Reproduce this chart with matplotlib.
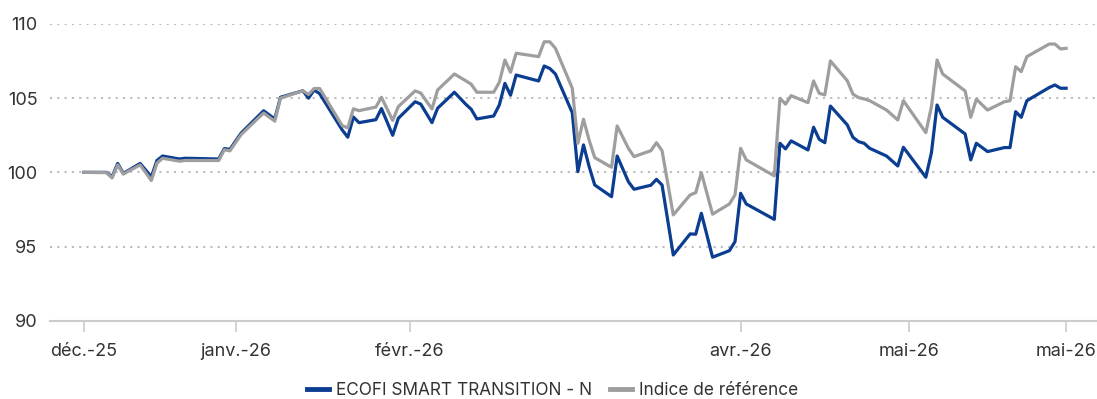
import pandas as pd
import matplotlib
matplotlib.use("Agg")
import matplotlib.pyplot as plt

plt.rcParams["font.family"] = ["Inter", "DejaVu Sans"]

# Base 100 au 05/12/2025, jours calendaires depuis le départ
START = pd.Timestamp("2025-12-05")
day_offsets = [
    0, 4, 5, 6, 7, 8, 10, 12, 13, 14, 17, 18, 24, 25, 26, 28,
    32, 34, 35, 39, 40, 41, 42, 46, 47, 48, 49, 52, 53, 55, 56,
    59, 60, 62, 63, 66, 68, 69, 70, 73, 74, 75, 76, 77, 81, 82,
    83, 84, 87, 88, 89, 90, 91, 94, 95, 97, 98, 101, 102, 103,
    105, 108, 109, 110, 112, 115, 116, 117, 118, 123, 124, 125,
    126, 129, 130, 131, 132, 133, 136, 137, 138, 139, 140, 143,
    145, 146, 150, 151, 152, 153, 157, 158, 159, 161, 164, 165,
    166, 167, 168, 172, 173, 174, 175,
]
fonds = [
    100.0, 100.0, 99.7, 100.6, 99.93, 100.15, 100.6, 99.7, 100.8, 101.1,
    100.9, 100.95, 100.9, 101.6, 101.55, 102.65,
    104.15, 103.6, 105.06, 105.5, 105.0, 105.55, 105.3, 102.86, 102.37,
    103.73, 103.35, 103.55, 104.3, 102.5, 103.64,
    104.76, 104.6, 103.35, 104.32, 105.4, 104.6, 104.25, 103.6, 103.8,
    104.54, 106.0, 105.2, 106.56, 106.16, 107.17,
    107.0, 106.63, 104.02, 100.05, 101.85, 100.4, 99.15, 98.36, 101.1,
    99.37, 98.86, 99.13, 99.53, 99.15,
    94.43, 95.85, 95.83, 97.24, 94.28, 94.72, 95.33, 98.59, 97.87, 96.83,
    101.96, 101.58,
    102.12, 101.51, 103.04, 102.23, 102.0, 104.47, 103.2, 102.37, 102.07,
    101.96, 101.62, 101.1,
    100.43, 101.69, 99.67, 101.33, 104.54, 103.71, 102.59, 100.84, 101.96,
    101.4, 101.67, 101.67,
    104.09, 103.71, 104.83, 105.72, 105.89, 105.67, 105.67,
]
indice = [
    100.0, 99.98, 99.62, 100.5, 99.88, 100.1, 100.5, 99.45, 100.62, 100.95,
    100.75, 100.8, 100.8, 101.52, 101.45, 102.55,
    104.0, 103.45, 105.0, 105.5, 105.25, 105.65, 105.65, 103.15, 103.0,
    104.28, 104.16, 104.4, 105.06, 103.5, 104.43,
    105.49, 105.35, 104.27, 105.55, 106.63, 106.18, 105.94, 105.4, 105.4,
    106.07, 107.57, 106.75, 108.03, 107.8, 108.8,
    108.8, 108.36, 105.67, 101.96, 103.58, 102.18, 100.99, 100.34, 103.13,
    101.62, 101.06, 101.46, 102.0, 101.46,
    97.13, 98.48, 98.63, 99.98, 97.18, 97.87, 98.48, 101.62, 100.84, 99.76,
    104.99, 104.6,
    105.17, 104.7, 106.16, 105.33, 105.22, 107.51, 106.18, 105.28, 105.04,
    104.95, 104.83, 104.2,
    103.53, 104.83, 102.68, 104.43, 107.57, 106.63, 105.49, 103.71, 104.93,
    104.2, 104.76, 104.83,
    107.12, 106.79, 107.8, 108.65, 108.65, 108.32, 108.36,
]

tick_dates = ["2025-12-05", "2026-01-01", "2026-02-01", "2026-04-01", "2026-05-01", "2026-05-29"]
tick_labels = ["déc.-25", "janv.-26", "févr.-26", "avr.-26", "mai-26", "mai-26"]
y_ticks = [90, 95, 100, 105, 110]

dates = START + pd.to_timedelta(day_offsets, unit="D")

fig = plt.figure(figsize=(10.97, 3.99), dpi=100)
ax = fig.add_axes([50 / 1097, 1 - 320.7 / 399, 1 - 50 / 1097, (320.7 - 24) / 399])

ax.plot(dates, fonds, color="#0b3d91", lw=2.3, label="ECOFI SMART TRANSITION - N", zorder=3)
ax.plot(dates, indice, color="#9e9e9e", lw=2.3, label="Indice de référence", zorder=4)

ax.set_ylim(90, 110)
ax.set_yticks(y_ticks)
ax.set_xlim(START - pd.Timedelta(days=6.06), dates[-1] + pd.Timedelta(days=5.5))
ax.set_xticks(pd.to_datetime(tick_dates))
ax.set_xticklabels(tick_labels)

for v in y_ticks[1:]:
    ax.axhline(v, color="#bdbdbd", lw=1.5, ls=(0, (1, 2.5)), zorder=1)

for side in ["top", "right", "left"]:
    ax.spines[side].set_visible(False)
ax.spines["bottom"].set_color("#cccccc")
ax.spines["bottom"].set_linewidth(1.5)

ax.tick_params(axis="y", length=0, pad=9, labelsize=13, labelcolor="#333333")
ax.tick_params(axis="x", length=8, width=1.2, color="#cccccc", pad=8,
               labelsize=13, labelcolor="#333333")

leg = ax.legend(loc="center", bbox_to_anchor=(0.48, -0.236), ncol=2, frameon=False,
                fontsize=12.4, handlelength=1.3, handletextpad=0.4, columnspacing=1.0,
                labelcolor="#333333", borderpad=0)
for line in leg.get_lines():
    line.set_linewidth(3.5)

fig.savefig("out.png", dpi=100)
